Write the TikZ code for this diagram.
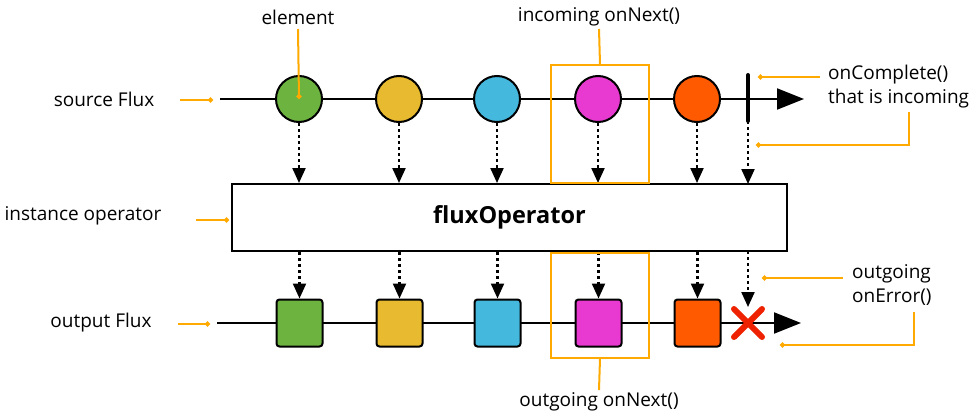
\documentclass[tikz,border=0pt]{standalone}
\usepackage{fontspec}
\setmainfont{Open Sans}
\usetikzlibrary{arrows.meta,calc}
\definecolor{cgreen}{HTML}{6DB33F}
\definecolor{cyellow}{HTML}{E8BA30}
\definecolor{cblue}{HTML}{45B8DE}
\definecolor{cmag}{HTML}{E83AD0}
\definecolor{corange}{HTML}{FF5A00}
\definecolor{accent}{HTML}{FFAA00}
\definecolor{cred}{HTML}{EE2200}
\tikzset{
  lbl/.style={font=\fontsize{19}{24}\selectfont, inner sep=0pt},
  elem/.style={circle, draw=black, line width=2pt, minimum size=46pt, inner sep=0pt},
  sq/.style={rectangle, rounded corners=3pt, draw=black, line width=2pt, minimum width=46pt, minimum height=47pt, inner sep=0pt},
  timeline/.style={line width=2pt, -{Triangle[length=27pt,width=21pt]}},
  dotarrow/.style={line width=2.2pt, dash pattern=on 3pt off 3pt, -{Triangle[length=15pt,width=13pt]}},
  callout/.style={accent, line width=2pt, -{Circle[length=5pt]}},
  hl/.style={draw=accent, line width=2pt},
}
\begin{document}
\begin{tikzpicture}[x=1pt,y=-1pt]
\useasboundingbox (0,0) rectangle (980,420);
% source flux
\coordinate (s0) at (220,99);
\coordinate (s1) at (804,99);
\draw[timeline] (s0) -- (s1);
\node[elem, fill=cgreen] (c1) at (299,99) {};
\node[elem, fill=cyellow] (c2) at (399,99) {};
\node[elem, fill=cblue] (c3) at (497,99) {};
\node[elem, fill=cmag] (c4) at (598,99) {};
\node[elem, fill=corange] (c5) at (697,99) {};
\coordinate (bt) at (748,75);
\coordinate (bb) at (748,121);
\draw[line width=4pt, line cap=round] (bt) -- (bb);
% operator
\node[draw=black, line width=2pt, minimum width=555pt, minimum height=67pt, inner sep=0pt] (op) at (509.5,217.5) {};
\node[font=\bfseries\fontsize{23.5}{27}\selectfont] (opl) at (op.center) {fluxOperator};
% output flux
\coordinate (o0) at (217,323);
\coordinate (o1) at (801,323);
\draw[timeline] (o0) -- (o1);
\node[sq, fill=cgreen] (q1) at (299.5,323) {};
\node[sq, fill=cyellow] (q2) at (399.5,323) {};
\node[sq, fill=cblue] (q3) at (497.5,323) {};
\node[sq, fill=cmag] (q4) at (598.5,323) {};
\node[sq, fill=corange] (q5) at (697.5,323) {};
\coordinate (x0) at (748,323);
\draw[cred, line width=6pt, line cap=round] ($(x0)+(-14,-14)$) -- ($(x0)+(14,14)$);
\draw[cred, line width=6pt, line cap=round] ($(x0)+(-14,14)$) -- ($(x0)+(14,-14)$);
% dotted arrows top
\foreach \c in {c1,c2,c3,c4,c5} {
  \draw[dotarrow] (\c.south) -- (\c.south |- op.north);
}
\coordinate (ct) at (748,184);
\draw[dotarrow] (bb) -- (ct);
% dotted arrows bottom
\foreach \q in {q1,q2,q3,q4,q5} {
  \draw[dotarrow] (\q.north |- op.south) -- (\q.north);
}
\coordinate (xt) at (748,307);
\draw[dotarrow] (748,251) -- (xt);
% highlight boxes
\node[hl, minimum width=98pt, minimum height=118pt, inner sep=0pt] (h1) at (600,124) {};
\node[hl, minimum width=98pt, minimum height=105pt, inner sep=0pt] (h2) at (600,305.5) {};
% labels
\node[lbl] (le) at (298,17) {element};
\draw[callout] (298,29) -- (c1.center);
\node[lbl] (li) at (599,17) {incoming onNext()};
\draw[accent, line width=2pt] (599,29) -- (h1.north);
\node[lbl] (lo) at (599,402) {outgoing onNext()};
\draw[accent, line width=2pt] (h2.south) -- (599,390);
\node[lbl] (ls) at (104,99) {source Flux};
\draw[callout] (180,100) -- (213,100);
\node[lbl] (lin) at (83,216) {instance operator};
\draw[callout] (196,220) -- (229,220);
\node[lbl] (lof) at (101,323) {output Flux};
\draw[callout] (178,324) -- (210,324);
\node[lbl, anchor=west, align=left] (lc) at (828,87) {onComplete()\\that is incoming};
\draw[callout] (820,77) -- (758,77);
\draw[callout] (909,112) |- (756,145);
\node[lbl, anchor=west, align=left] (le2) at (852,285) {outgoing\\onError()};
\draw[callout] (843,278) -- (762,278);
\draw[callout] (914,312) |- (780,345);
\end{tikzpicture}
\end{document}
